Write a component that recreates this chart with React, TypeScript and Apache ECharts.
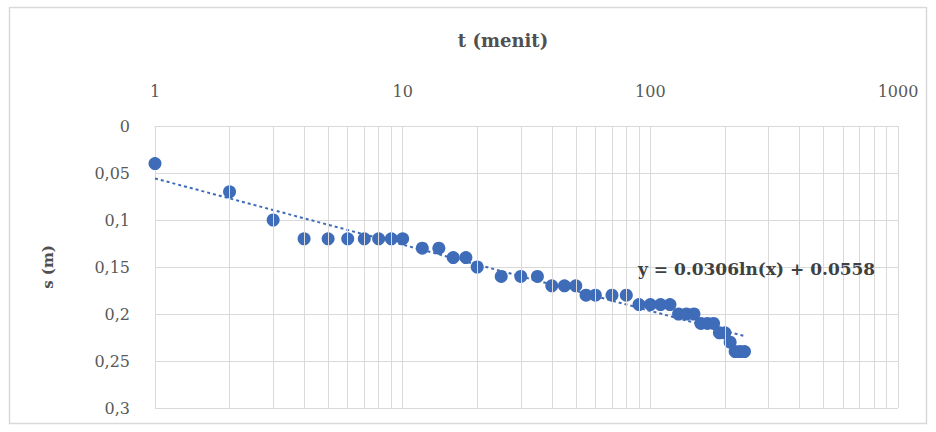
import React, { useEffect, useRef } from "react";
import * as echarts from "echarts";

// Elapsed time (minutes) and drawdown (m)
const times = [
  1, 2, 3, 4, 5, 6, 7, 8, 9, 10, 12, 14, 16, 18, 20, 25, 30, 35, 40, 45, 50,
  55, 60, 70, 80, 90, 100, 110, 120, 130, 140, 150, 160, 170, 180, 190, 200,
  210, 220, 230, 240,
];
const drawdown = [
  0.04, 0.07, 0.1, 0.12, 0.12, 0.12, 0.12, 0.12, 0.12, 0.12, 0.13, 0.13, 0.14,
  0.14, 0.15, 0.16, 0.16, 0.16, 0.17, 0.17, 0.17, 0.18, 0.18, 0.18, 0.18, 0.19,
  0.19, 0.19, 0.19, 0.2, 0.2, 0.2, 0.21, 0.21, 0.21, 0.22, 0.22, 0.23, 0.24,
  0.24, 0.24,
];

// Logarithmic trendline coefficients: y = a ln(x) + b
const trendA = 0.0306;
const trendB = 0.0558;

// Intermediate decade lines (2..9, 20..90, 200..900)
const minorGrid = [
  2, 3, 4, 5, 6, 7, 8, 9, 20, 30, 40, 50, 60, 70, 80, 90, 200, 300, 400, 500,
  600, 700, 800, 900,
];

const xTitle = "t (menit)";
const yTitle = "s (m)";

const GRID = "#d9d9d9";
const BLUE = "#3f6cb8";
const TEXT = "#595959";
const SERIF = "'DejaVu Serif', 'Liberation Serif', serif";

export default function App() {
  const ref = useRef<HTMLDivElement>(null);

  useEffect(() => {
    if (!ref.current) return;
    const chart = echarts.init(ref.current, null, { renderer: "svg" });

    const points = times.map((t, i) => [t, drawdown[i]]);
    const tStart = times[0];
    const tEnd = times[times.length - 1];
    const trend = [
      [tStart, trendA * Math.log(tStart) + trendB],
      [tEnd, trendA * Math.log(tEnd) + trendB],
    ];

    chart.setOption({
      animation: false,
      backgroundColor: "#ffffff",
      grid: { left: 155, right: 38, top: 126, bottom: 24, containLabel: false },
      graphic: [
        {
          type: "rect",
          shape: { x: 9.5, y: 7.5, width: 917, height: 416 },
          style: { fill: "none", stroke: GRID, lineWidth: 1.5 },
          silent: true,
        },
        {
          type: "text",
          x: 503,
          y: 40,
          style: {
            text: xTitle,
            fill: "#505050",
            font: `bold 18px ${SERIF}`,
            textAlign: "center",
            textVerticalAlign: "middle",
          },
        },
        {
          type: "text",
          x: 638,
          y: 269,
          z: 10,
          style: {
            text: `y = ${trendA}ln(x) + ${trendB}`,
            fill: "#404040",
            font: `bold 17px ${SERIF}`,
            textAlign: "left",
            textVerticalAlign: "middle",
          },
        },
      ],
      xAxis: {
        type: "log",
        logBase: 10,
        min: 1,
        max: 1000,
        position: "top",
        axisLine: { show: true, lineStyle: { color: GRID, width: 1 } },
        axisTick: { show: false },
        axisLabel: {
          color: TEXT,
          fontFamily: SERIF,
          fontSize: 16,
          margin: 27,
          formatter: (v: number) => String(Math.round(v)),
        },
        splitLine: { show: true, lineStyle: { color: GRID, width: 1 } },
      },
      yAxis: {
        type: "value",
        inverse: true,
        min: 0,
        max: 0.3,
        interval: 0.05,
        name: yTitle,
        nameLocation: "middle",
        nameGap: 100,
        nameRotate: 90,
        nameTextStyle: {
          color: "#505050",
          fontFamily: SERIF,
          fontWeight: "bold",
          fontSize: 15,
        },
        axisLine: { show: false },
        axisTick: { show: false },
        axisLabel: {
          color: TEXT,
          fontFamily: SERIF,
          fontSize: 16,
          margin: 25,
          formatter: (v: number) =>
            String(parseFloat(v.toFixed(2))).replace(".", ","),
        },
        splitLine: { show: true, lineStyle: { color: GRID, width: 1 } },
      },
      series: [
        {
          type: "line",
          data: [],
          silent: true,
          z: 1,
          markLine: {
            silent: true,
            symbol: ["none", "none"],
            label: { show: false },
            lineStyle: { color: GRID, type: "solid", width: 1 },
            data: minorGrid.map((v) => ({ xAxis: v })),
          },
        },
        {
          type: "scatter",
          data: points,
          symbol: "circle",
          symbolSize: 13,
          itemStyle: { color: BLUE, opacity: 1 },
          z: 3,
        },
        {
          type: "line",
          data: trend,
          symbol: "none",
          lineStyle: { color: BLUE, width: 2, type: [3, 3] },
          z: 4,
        },
      ],
    });

    return () => chart.dispose();
  }, []);

  return (
    <div
      ref={ref}
      style={{
        position: "fixed",
        left: 0,
        top: 0,
        width: 936,
        height: 432,
        background: "#fff",
      }}
    />
  );
}
